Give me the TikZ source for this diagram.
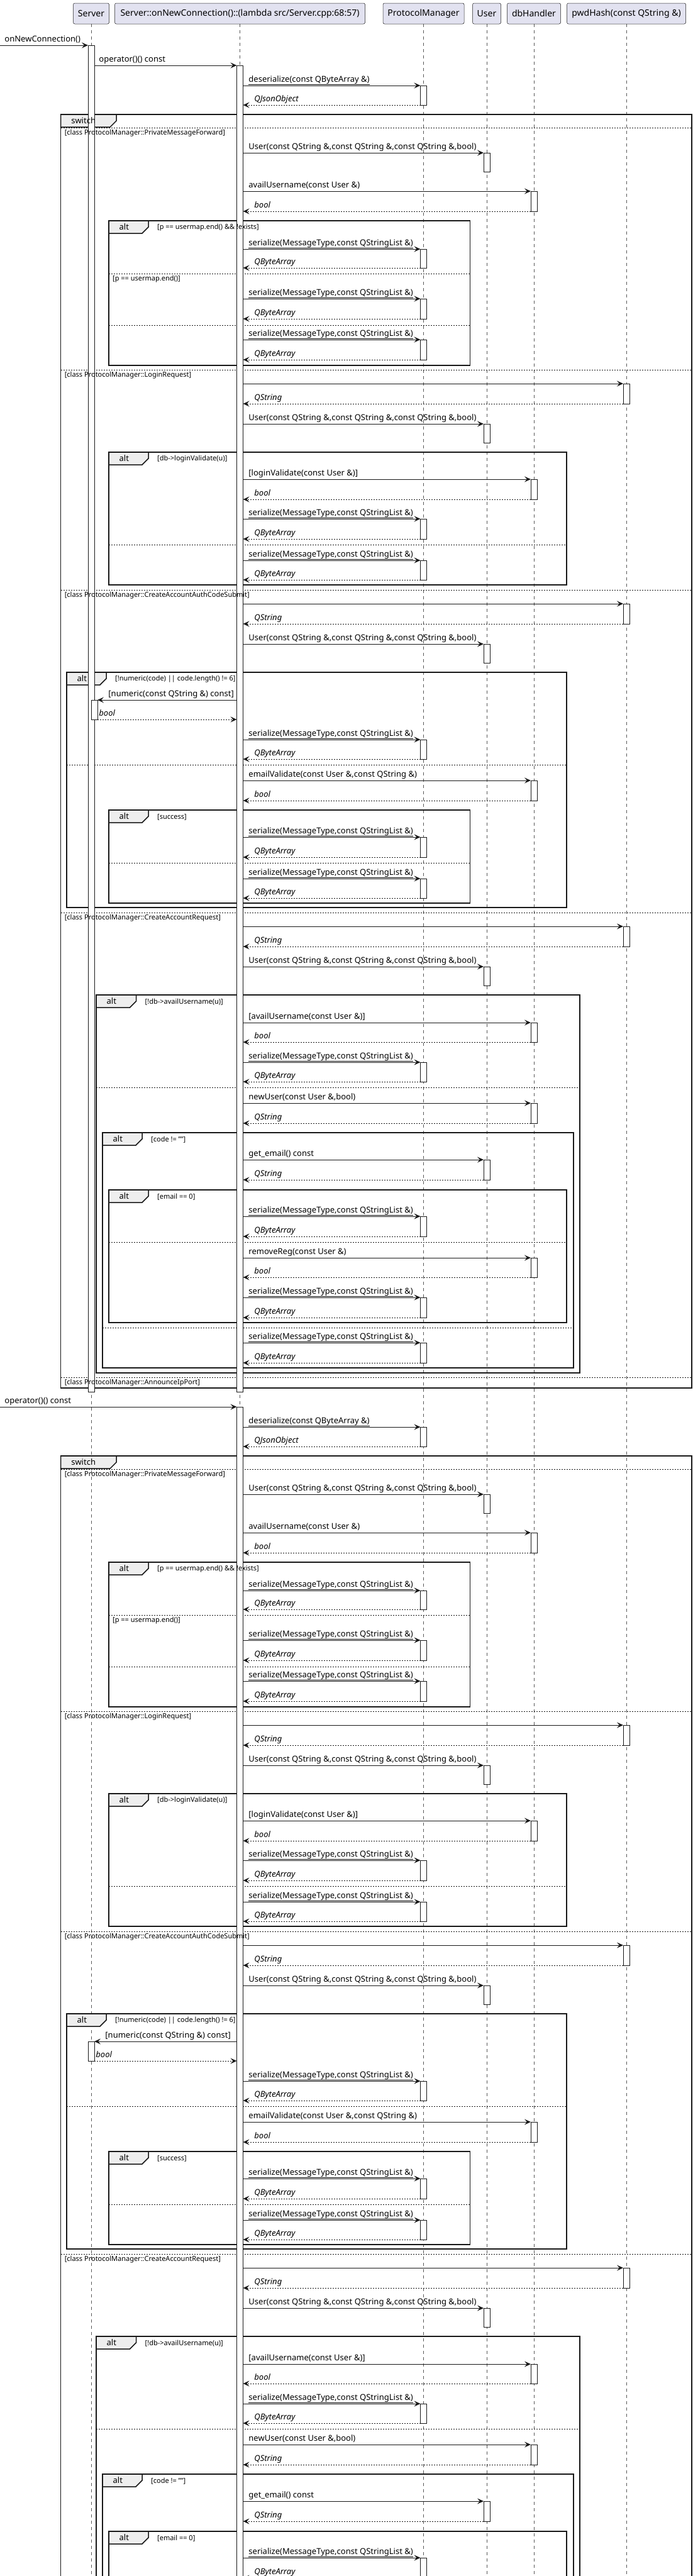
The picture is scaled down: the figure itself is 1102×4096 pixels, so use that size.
\documentclass[tikz,border=0pt]{standalone}
\usepackage{fontspec}
\setmainfont{Noto Sans}
\usepackage{xcolor}
\usetikzlibrary{arrows.meta}

\definecolor{partfill}{HTML}{E2E2F0}
\definecolor{tabfill}{HTML}{EEEEEE}
\definecolor{ink}{HTML}{181818}

\pgfdeclarelayer{lines}
\pgfdeclarelayer{bars}
\pgfdeclarelayer{labels}
\pgfsetlayers{lines,main,bars,labels}

\newcommand{\serlabel}{\underline{serialize(MessageType,const QStringList \&)}}
\newcommand{\ctorlabel}{User(const QString \&,const QString \&,const QString \&,bool)}

% call from the lambda to a lifeline, with its reply
\newcommand{\callret}[6]{%
  \node[actbar, minimum height={#4-#3}] (#1) at (#2,{(#3+#4)/2}) {};
  \draw[call] (lam.east |- #1.north west) -- (#1.north west)
    node[msg, pos=0, xshift=8.5pt, yshift=6pt] (#1c) {#5};
  \draw[ret] (#1.south west) -- (lam.east |- #1.south west)
    node[retmsg, pos=1, xshift=17.5pt, yshift=6pt] (#1r) {#6};
}
% constructor call, no reply
\newcommand{\ctorcall}[4]{%
  \node[actbar, minimum height=30] (#1) at (#2,{#3+15}) {};
  \draw[call] (lam.east |- #1.north west) -- (#1.north west)
    node[msg, pos=0, xshift=8.5pt, yshift=6pt] (#1c) {#4};
}
% frame: name, left, right, top, bottom, tab width, tab text, guard
\newcommand{\seqframe}[8]{%
  \draw[frameline] (#2,#4) rectangle (#3,#5);
  \draw[tabbox] (#2,#4) -- ({#2+#6},#4) -- ({#2+#6},{#4+10}) -- ({#2+#6-10},{#4+20})
    -- (#2,{#4+20}) -- cycle;
  \begin{pgfonlayer}{labels}
    \node[tabtext] (#1t) at ({#2+16.5},{#4+10}) {#7};
    \node[guard] (#1g) at ({#2+#6+14},{#4+11}) {#8};
  \end{pgfonlayer}
}
% else line: name, left, right, y, guard
\newcommand{\elseline}[5]{%
  \draw[sepline] (#2,#4) -- (#3,#4);
  \begin{pgfonlayer}{labels}
    \node[guard] (#1) at ({#2+6},{#4+9}) {#5};
  \end{pgfonlayer}
}

% one pass through the message handler
\newcommand{\protocolblock}[1]{%
  \callret{ds}{673.5}{136}{167}{\underline{deserialize(const QByteArray \&)}}{QJsonObject}
  \seqframe{sw}{96.6}{1100}{182}{2207}{88.5}{switch}{}
  \elseline{g1}{96.6}{1100}{203}{[class ProtocolManager::PrivateMessageForward]}
  \ctorcall{u1}{774}{243}{\ctorlabel}
  \callret{d1}{849}{304}{336}{availUsername(const User \&)}{bool}
  \seqframe{a1}{173}{747.5}{351}{581}{63}{alt}{[p == usermap.end() \&\& !exists]}
  \callret{s1}{673.5}{396}{426}{\serlabel}{QByteArray}
  \elseline{g2}{173}{747.5}{435}{[p == usermap.end()]}
  \callret{s2}{673.5}{475}{507}{\serlabel}{QByteArray}
  \elseline{g3}{173}{747.5}{517}{}
  \callret{s3}{673.5}{540}{572}{\serlabel}{QByteArray}
  % login
  \elseline{g4}{96.6}{1100}{588}{[class ProtocolManager::LoginRequest]}
  \callret{h1}{996}{610}{642}{}{QString}
  \ctorcall{u2}{774}{674}{\ctorlabel}
  \seqframe{a2}{173}{901}{719}{930}{63}{alt}{[db->loginValidate(u)]}
  \callret{d2}{849}{762}{794}{[loginValidate(const User \&)]}{bool}
  \callret{s4}{673.5}{825}{857}{\serlabel}{QByteArray}
  \elseline{g5}{173}{901}{866}{}
  \callret{s5}{673.5}{891}{922}{\serlabel}{QByteArray}
  % auth code
  \elseline{g6}{96.6}{1100}{938}{[class ProtocolManager::CreateAccountAuthCodeSubmit]}
  \callret{h2}{996}{960}{992}{}{QString}
  \ctorcall{u3}{774}{1024}{\ctorlabel}
  \seqframe{a3}{106}{901}{1069}{1443}{63}{alt}{[!numeric(code) || code.length() != 6]}
  \begin{pgfonlayer}{bars}
    \node[actbar, minimum height=31] (nb) at (#1,1128.5) {};
  \end{pgfonlayer}
  \draw[call] (lam.west |- nb.north east) -- (nb.north east)
    node[msg, pos=1, xshift=17pt, yshift=6pt] (nbc) {[numeric(const QString \&) const]};
  \draw[ret] (nb.south east) -- (lam.west |- nb.south east)
    node[retmsg, pos=0, xshift=2pt, yshift=6pt] (nbr) {bool};
  \callret{s6}{673.5}{1176}{1207}{\serlabel}{QByteArray}
  \elseline{g7}{106}{901}{1216}{}
  \callret{d3}{849}{1241}{1273}{emailValidate(const User \&,const QString \&)}{bool}
  \seqframe{a4}{173}{747.5}{1288}{1436}{63}{alt}{[success]}
  \callret{s7}{673.5}{1331}{1363}{\serlabel}{QByteArray}
  \elseline{g8}{173}{747.5}{1372}{}
  \callret{s8}{673.5}{1397}{1428}{\serlabel}{QByteArray}
  % new account
  \elseline{g9}{96.6}{1100}{1451}{[class ProtocolManager::CreateAccountRequest]}
  \callret{h3}{996}{1473}{1505}{}{QString}
  \ctorcall{u4}{774}{1537}{\ctorlabel}
  \seqframe{a5}{153}{922}{1582}{2183}{63.5}{alt}{[!db->availUsername(u)]}
  \callret{d4}{849}{1626}{1657}{[availUsername(const User \&)]}{bool}
  \callret{s9}{673.5}{1689}{1720}{\serlabel}{QByteArray}
  \elseline{g10}{153}{922}{1729}{}
  \callret{d5}{849}{1754}{1786}{newUser(const User \&,bool)}{QString}
  \seqframe{a6}{163}{912}{1801}{2175}{63}{alt}{[code != ""]}
  \callret{e1}{774}{1844}{1876}{get\_email() const}{QString}
  \seqframe{a7}{173}{901}{1892}{2103}{63}{alt}{[email == 0]}
  \callret{s10}{673.5}{1934}{1966}{\serlabel}{QByteArray}
  \elseline{g11}{173}{901}{1975}{}
  \callret{d6}{849}{2000}{2031}{removeReg(const User \&)}{bool}
  \callret{s11}{673.5}{2063}{2095}{\serlabel}{QByteArray}
  \elseline{g12}{163}{912}{2111}{}
  \callret{s12}{673.5}{2135}{2167}{\serlabel}{QByteArray}
  \elseline{g13}{96.6}{1100}{2190}{[class ProtocolManager::AnnounceIpPort]}
}

\begin{document}
\begin{tikzpicture}[x=1pt, y=-1pt,
  part/.style={draw=ink, line width=0.5pt, fill=partfill, rounded corners=2.5pt,
    minimum height=33pt, inner sep=0pt, font=\fontsize{14}{16}\selectfont},
  life/.style={draw=black!65, line width=0.6pt, dash pattern=on 5pt off 5pt},
  actbar/.style={draw=ink, line width=0.8pt, fill=white, minimum width=10pt,
    inner sep=0pt, outer sep=0pt},
  call/.style={draw=ink, line width=0.9pt, -{Stealth[length=10pt,width=9pt,inset=4pt]}},
  ret/.style={call, dash pattern=on 2pt off 2pt},
  msg/.style={anchor=base west, inner sep=0pt, font=\fontsize{13}{15}\selectfont},
  retmsg/.style={msg, font=\fontsize{13}{15}\selectfont\itshape},
  frameline/.style={draw=ink, line width=1.5pt},
  tabbox/.style={draw=ink, line width=1.5pt, fill=tabfill},
  sepline/.style={draw=ink, line width=0.8pt, dash pattern=on 2pt off 2pt},
  guard/.style={anchor=west, inner sep=0pt, font=\fontsize{11}{13}\selectfont\bfseries},
  tabtext/.style={anchor=west, inner sep=0pt, font=\fontsize{13}{15}\selectfont\bfseries}]
\useasboundingbox (0,0) rectangle (1102,4096);

% participants
\node[part, minimum width=57] (pSrv) at (145,21.5) {Server};
\node[part, minimum width=398] (pLam) at (381.5,21.5) {Server::onNewConnection()::(lambda src/Server.cpp:68:57)};
\node[part, minimum width=129] (pPm) at (673.5,21.5) {ProtocolManager};
\node[part, minimum width=45] (pUsr) at (774,21.5) {User};
\node[part, minimum width=85] (pDb) at (849,21.5) {dbHandler};
\node[part, minimum width=189] (pPwd) at (996,21.5) {pwdHash(const QString \&)};

\begin{pgfonlayer}{lines}
\foreach \p in {pSrv,pLam,pPm,pUsr,pDb,pPwd}
  \draw[life] (\p.south) -- ++(0,4100);
\end{pgfonlayer}

% first connection
\begin{pgfonlayer}{bars}
  \node[actbar, minimum height=2141] (srv) at (145,1142.5) {};
  \node[actbar, minimum height=2109] (lam) at (381.5,1158.5) {};
\end{pgfonlayer}
\coordinate (in1) at (0,72);
\draw[call] (in1) -- (srv.north west)
  node[msg, pos=0, xshift=7pt, yshift=6pt] (in1l) {onNewConnection()};
\draw[call] (srv.east |- lam.north) -- (lam.north west)
  node[msg, pos=0, xshift=7pt, yshift=6pt] (opl) {operator()() const};
\protocolblock{150}

% second call of the lambda
\begin{pgfonlayer}{bars}
  \node[actbar, minimum height=1963] (lam) at (381.5,3218.5) {};
\end{pgfonlayer}
\coordinate (in2) at (0,2237);
\draw[call] (in2) -- (lam.north west)
  node[msg, pos=0, xshift=7pt, yshift=6pt] (in2l) {operator()() const};
\begin{scope}[shift={(0,2133)}]
  \protocolblock{145}
\end{scope}
\end{tikzpicture}
\end{document}
